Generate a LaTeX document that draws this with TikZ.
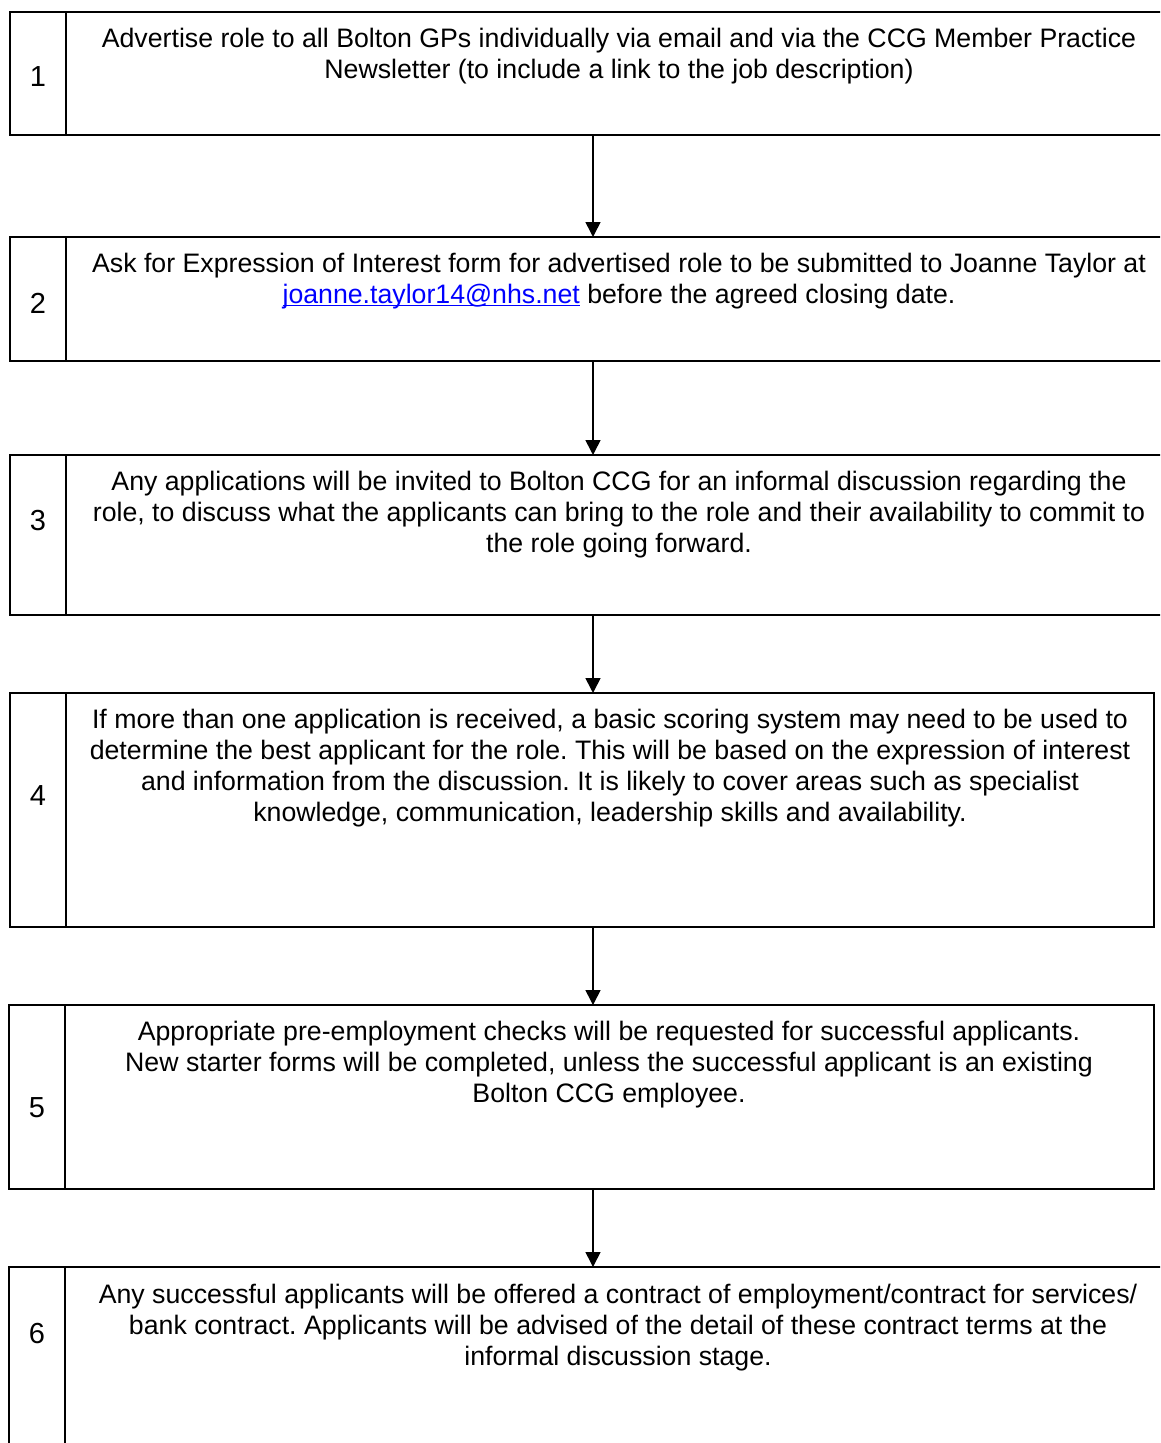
\documentclass[tikz,border=0pt]{standalone}
\usepackage{fontspec}
\setmainfont{Liberation Sans}
\usetikzlibrary{arrows.meta}
\definecolor{linkblue}{RGB}{0,0,255}
\newcommand{\linkul}[1]{{\color{linkblue}\setbox0\hbox{#1}\rlap{\rule[-2.6pt]{\wd0}{1.3pt}}\box0}}
\tikzset{
  cell/.style={draw=black, line width=1.6pt, inner sep=0pt, outer sep=0pt, anchor=north west},
  numtxt/.style={font=\fontsize{29}{34}\selectfont, inner sep=0pt},
  bodytxt/.style={font=\fontsize{26.7}{31}\selectfont\frenchspacing, align=center, inner sep=0pt, anchor=north},
  arr/.style={line width=1.6pt, -{Triangle[length=15pt, width=15pt]}}
}
\begin{document}
\begin{tikzpicture}[x=1pt, y=-1pt]
\useasboundingbox (0,0) rectangle (1160,1443);
\clip (0,0) rectangle (1160,1443);
\fill[white] (0,0) rectangle (1160,1443);
\coordinate (ax) at (593,0);
% box 1
\node[cell, minimum width=56pt, minimum height=123pt] (n1) at (10,12) {};
\node[cell, minimum width=1120pt, minimum height=123pt] (t1) at (66,12) {};
\node[numtxt] (l1) at (38,77) {1};
\node[bodytxt] (x1) at (619,28) {Advertise role to all Bolton GPs individually via email and via the CCG Member Practice\\Newsletter (to include a link to the job description)};
% box 2
\node[cell, minimum width=56pt, minimum height=124pt] (n2) at (10,237) {};
\node[cell, minimum width=1120pt, minimum height=124pt] (t2) at (66,237) {};
\node[numtxt] (l2) at (38,303) {2};
\node[bodytxt] (x2) at (619,253) {Ask for Expression of Interest form for advertised role to be submitted to Joanne Taylor at\\\linkul{joanne.taylor14@nhs.net} before the agreed closing date.};
% box 3
\node[cell, minimum width=56pt, minimum height=160pt] (n3) at (10,455) {};
\node[cell, minimum width=1120pt, minimum height=160pt] (t3) at (66,455) {};
\node[numtxt] (l3) at (38,521) {3};
\node[bodytxt] (x3) at (619,471) {Any applications will be invited to Bolton CCG for an informal discussion regarding the\\role, to discuss what the applicants can bring to the role and their availability to commit to\\the role going forward.};
% box 4
\node[cell, minimum width=56pt, minimum height=234pt] (n4) at (10,693) {};
\node[cell, minimum width=1088pt, minimum height=234pt] (t4) at (66,693) {};
\node[numtxt] (l4) at (38,796) {4};
\node[bodytxt] (x4) at (610,709) {If more than one application is received, a basic scoring system may need to be used to\\determine the best applicant for the role. This will be based on the expression of interest\\and information from the discussion. It is likely to cover areas such as specialist\\knowledge, communication, leadership skills and availability.};
% box 5
\node[cell, minimum width=56pt, minimum height=184pt] (n5) at (9,1005) {};
\node[cell, minimum width=1089pt, minimum height=184pt] (t5) at (65,1005) {};
\node[numtxt] (l5) at (37,1108) {5};
\node[bodytxt] (x5) at (609,1021) {Appropriate pre-employment checks will be requested for successful applicants.\\New starter forms will be completed, unless the successful applicant is an existing\\Bolton CCG employee.};
% box 6
\node[cell, minimum width=56pt, minimum height=220pt] (n6) at (9,1267) {};
\node[cell, minimum width=1120pt, minimum height=220pt] (t6) at (65,1267) {};
\node[numtxt] (l6) at (37,1333) {6};
\node[bodytxt] (x6) at (618,1284) {Any successful applicants will be offered a contract of employment/contract for services/\\bank contract. Applicants will be advised of the detail of these contract terms at the\\informal discussion stage.};
% arrows
\draw[arr] (t1.south -| ax) -- (t2.north -| ax);
\draw[arr] (t2.south -| ax) -- (t3.north -| ax);
\draw[arr] (t3.south -| ax) -- (t4.north -| ax);
\draw[arr] (t4.south -| ax) -- (t5.north -| ax);
\draw[arr] (t5.south -| ax) -- (t6.north -| ax);
\end{tikzpicture}
\end{document}
